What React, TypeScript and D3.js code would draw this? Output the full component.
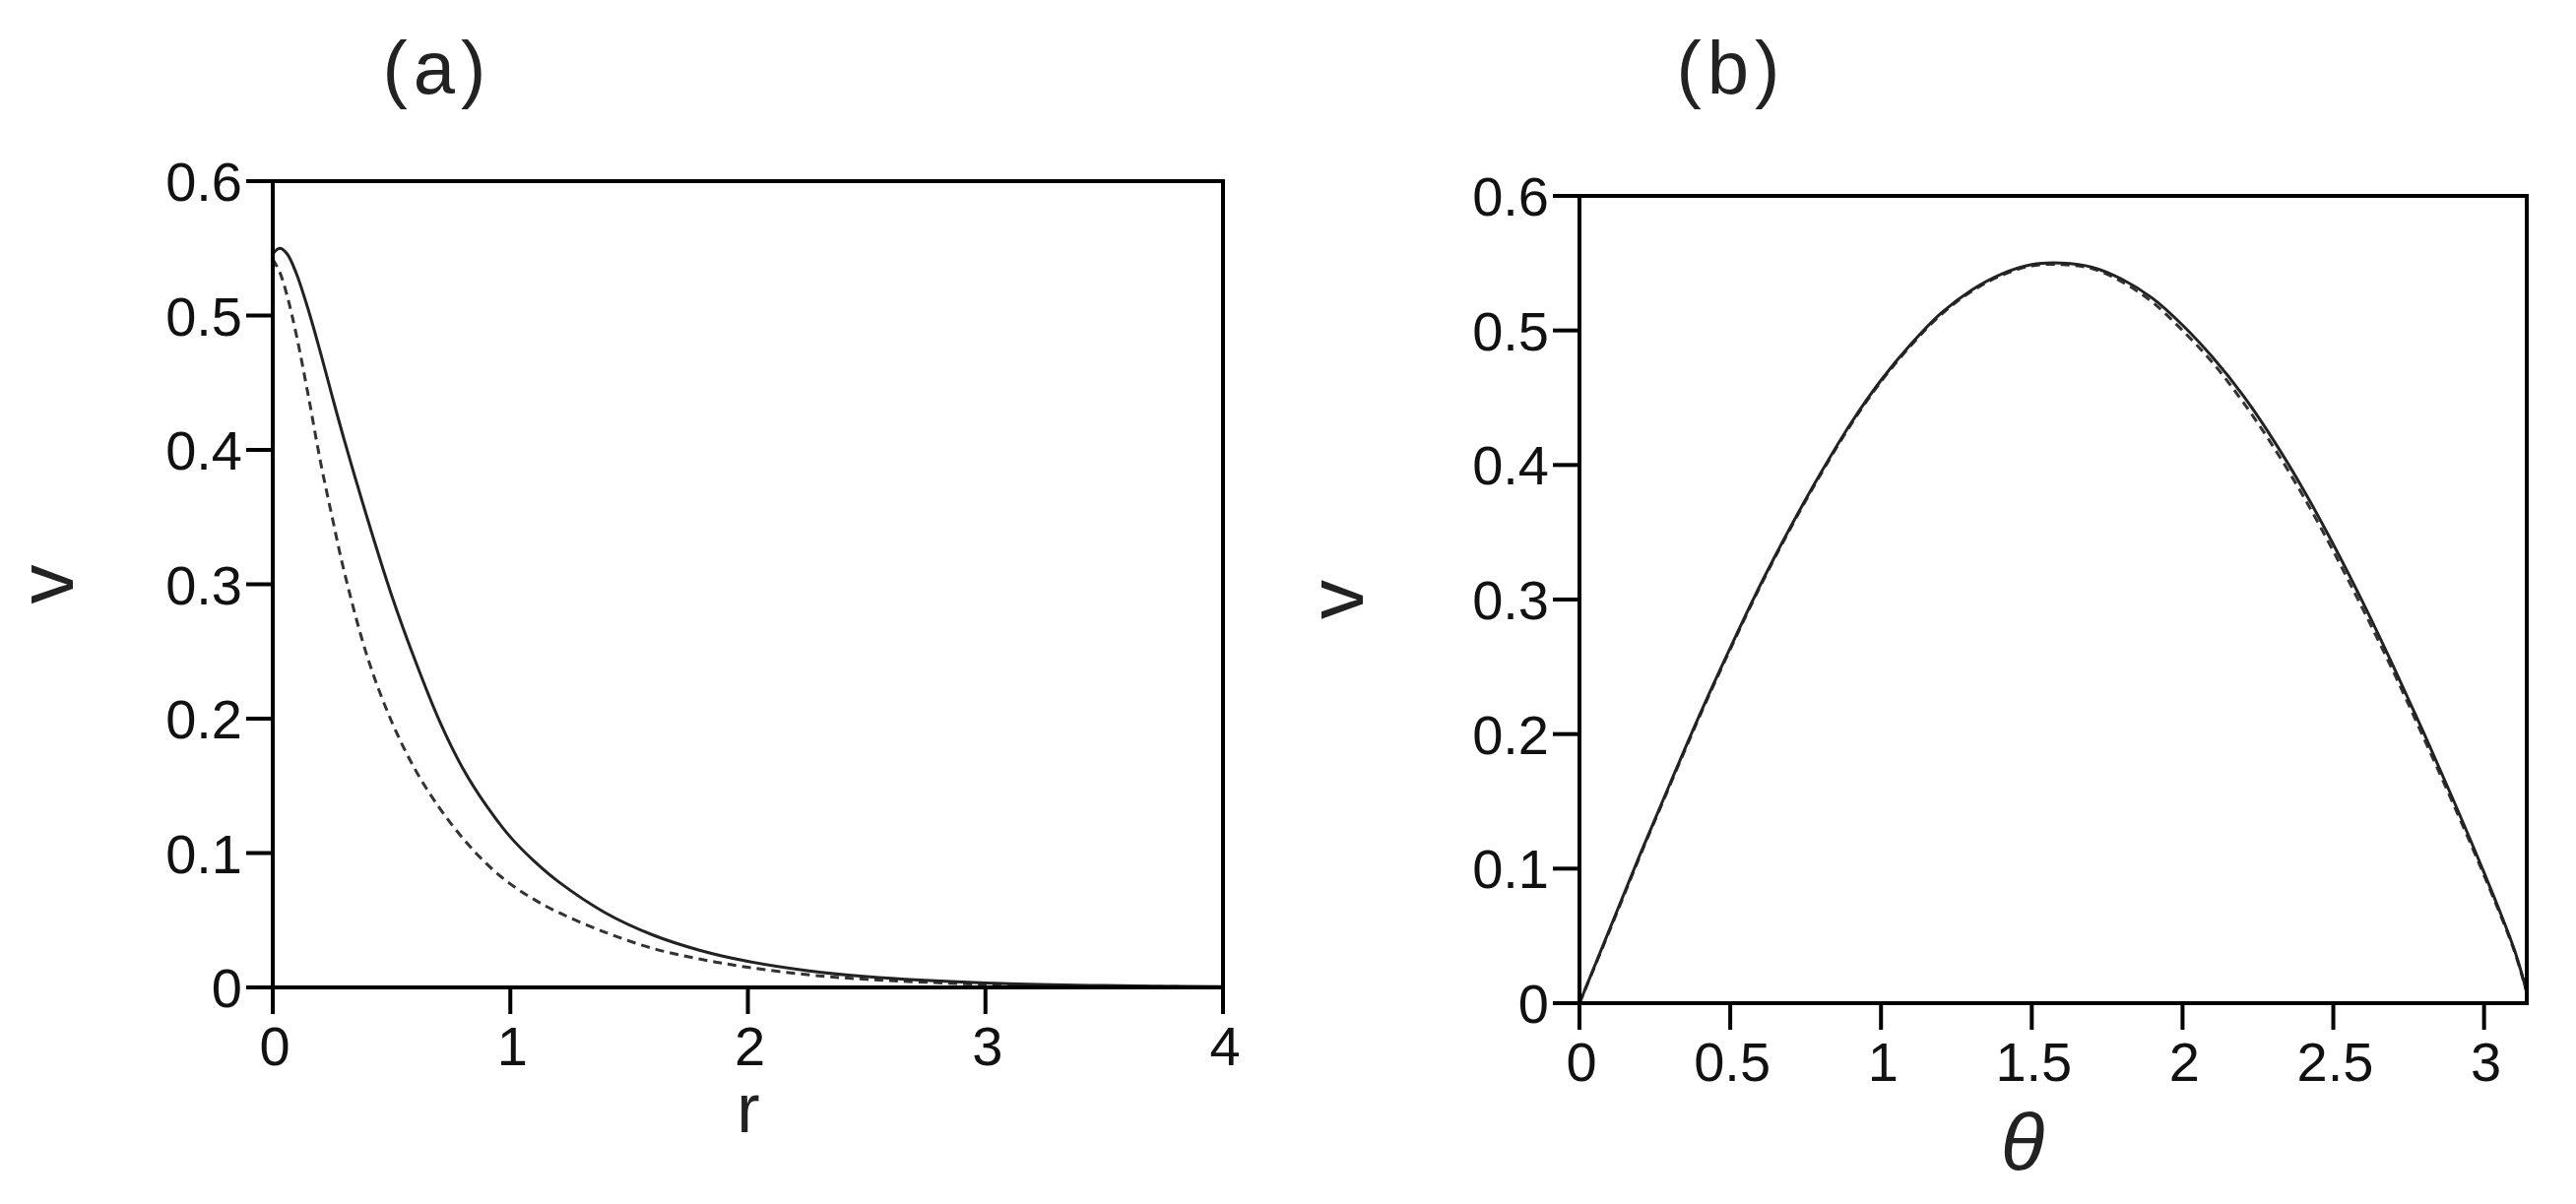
import React from "react";
import * as d3 from "d3";

// ---------- Panel (a) data: v versus r ----------
const rValues = [0, 0.03, 0.06, 0.1, 0.15, 0.2, 0.25, 0.3, 0.4, 0.5, 0.6, 0.7, 0.8, 0.9, 1.0, 1.1, 1.2, 1.4, 1.6, 1.8, 2.0, 2.25, 2.5, 3.0, 3.5, 4.0];
const vSolidA = [0.546, 0.55, 0.546, 0.531, 0.504, 0.473, 0.44, 0.408, 0.348, 0.292, 0.243, 0.199, 0.163, 0.135, 0.112, 0.094, 0.079, 0.0555, 0.039, 0.0275, 0.0194, 0.0125, 0.008, 0.0033, 0.0014, 0.0006];
const vDashedA = [0.542, 0.532, 0.515, 0.485, 0.44, 0.392, 0.35, 0.31, 0.245, 0.198, 0.162, 0.134, 0.111, 0.092, 0.077, 0.0655, 0.056, 0.041, 0.029, 0.021, 0.015, 0.0095, 0.006, 0.0023, 0.0009, 0.0003];

// ---------- Panel (b) data: v versus theta ----------
const thetaValues = [0, 0.1, 0.2, 0.3, 0.4, 0.5, 0.6, 0.7, 0.8, 0.9, 1.0, 1.1, 1.2, 1.3, 1.4, 1.5, 1.6, 1.7, 1.8, 1.9, 2.0, 2.1, 2.2, 2.3, 2.4, 2.5, 2.6, 2.7, 2.8, 2.9, 3.0, 3.1, 3.1416];
const vSolidB = [0, 0.055, 0.11, 0.163, 0.215, 0.264, 0.311, 0.354, 0.394, 0.431, 0.463, 0.49, 0.513, 0.53, 0.542, 0.549, 0.55, 0.547, 0.538, 0.524, 0.504, 0.48, 0.452, 0.419, 0.382, 0.341, 0.297, 0.25, 0.201, 0.15, 0.097, 0.04, 0.008];
const vDashedB = [0, 0.054, 0.109, 0.162, 0.214, 0.263, 0.31, 0.353, 0.393, 0.43, 0.462, 0.489, 0.512, 0.529, 0.541, 0.548, 0.549, 0.546, 0.536, 0.521, 0.5, 0.476, 0.447, 0.414, 0.377, 0.336, 0.292, 0.246, 0.197, 0.147, 0.095, 0.039, 0.008];

const yTicks = [0, 0.1, 0.2, 0.3, 0.4, 0.5, 0.6];
const yTickLabels = ["0", "0.1", "0.2", "0.3", "0.4", "0.5", "0.6"];
const xTicksA = [0, 1, 2, 3, 4];
const xTickLabelsA = ["0", "1", "2", "3", "4"];
const xTicksB = [0, 0.5, 1, 1.5, 2, 2.5, 3];
const xTickLabelsB = ["0", "0.5", "1", "1.5", "2", "2.5", "3"];

const FONT = "'Liberation Sans', Arial, sans-serif";

type PanelProps = {
  left: number; right: number; top: number; bottom: number;
  xDomain: [number, number];
  xs: number[]; solid: number[]; dashed: number[];
  xTicks: number[]; xTickLabels: string[];
  title: string; titleX: number;
  xLabel: string; xLabelX: number; xLabelY: number; xLabelItalic: boolean; xLabelSize: number;
  vLabelX: number;
};

function Panel(p: PanelProps) {
  const x = d3.scaleLinear().domain(p.xDomain).range([p.left, p.right]);
  const y = d3.scaleLinear().domain([0, 0.6]).range([p.bottom, p.top]);
  const line = d3.line<[number, number]>().x(d => x(d[0])).y(d => y(d[1])).curve(d3.curveCatmullRom.alpha(0.5));
  const solidPts = p.xs.map((xv, i) => [xv, p.solid[i]] as [number, number]);
  const dashedPts = p.xs.map((xv, i) => [xv, p.dashed[i]] as [number, number]);
  const tickLen = 27;
  const midY = (p.top + p.bottom) / 2;
  return (
    <g>
      <path d={line(dashedPts) || ""} fill="none" stroke="#333" strokeWidth={3} strokeDasharray="9 6" />
      <path d={line(solidPts) || ""} fill="none" stroke="#222" strokeWidth={3} />
      <rect x={p.left} y={p.top} width={p.right - p.left} height={p.bottom - p.top} fill="none" stroke="#000" strokeWidth={4} />
      {yTicks.map((t, i) => (
        <g key={"y" + i}>
          <line x1={p.left - tickLen} x2={p.left} y1={y(t)} y2={y(t)} stroke="#000" strokeWidth={4} />
          <text x={p.left - 31} y={y(t) + 20} textAnchor="end" fontFamily={FONT} fontSize={56} fill="#111">{yTickLabels[i]}</text>
        </g>
      ))}
      {p.xTicks.map((t, i) => (
        <g key={"x" + i}>
          <line x1={x(t)} x2={x(t)} y1={p.bottom} y2={p.bottom + tickLen} stroke="#000" strokeWidth={4} />
          <text x={x(t) + 2} y={p.bottom + 79} textAnchor="middle" fontFamily={FONT} fontSize={56} fill="#111">{p.xTickLabels[i]}</text>
        </g>
      ))}
      <text x={p.titleX} y={95} textAnchor="middle" fontFamily={FONT} fontSize={76} fill="#222" letterSpacing={6}>{p.title}</text>
      <text x={p.xLabelX} y={p.xLabelY} textAnchor="middle" fontFamily={FONT} fontSize={p.xLabelSize} fontStyle={p.xLabelItalic ? "italic" : "normal"} fill="#222">{p.xLabel}</text>
      <text transform={`translate(${p.vLabelX},${midY}) rotate(-90)`} textAnchor="middle" dy="0.25em" fontFamily={FONT} fontSize={80} fill="#222">v</text>
    </g>
  );
}

export default function App() {
  return (
    <svg width={2616} height={1223} style={{ position: "absolute", left: 0, top: 0, background: "#fff" }}>
      <rect x={0} y={0} width={2616} height={1223} fill="#fff" />
      <Panel left={277} right={1242} top={184} bottom={1003} xDomain={[0, 4]}
        xs={rValues} solid={vSolidA} dashed={vDashedA}
        xTicks={xTicksA} xTickLabels={xTickLabelsA}
        title="(a)" titleX={444}
        xLabel="r" xLabelX={760} xLabelY={1150} xLabelItalic={false} xLabelSize={70}
        vLabelX={54} />
      <Panel left={1604} right={2566} top={199} bottom={1019} xDomain={[0, Math.PI]}
        xs={thetaValues} solid={vSolidB} dashed={vDashedB}
        xTicks={xTicksB} xTickLabels={xTickLabelsB}
        title="(b)" titleX={1758}
        xLabel="θ" xLabelX={2054} xLabelY={1188} xLabelItalic={true} xLabelSize={82}
        vLabelX={1364} />
    </svg>
  );
}
